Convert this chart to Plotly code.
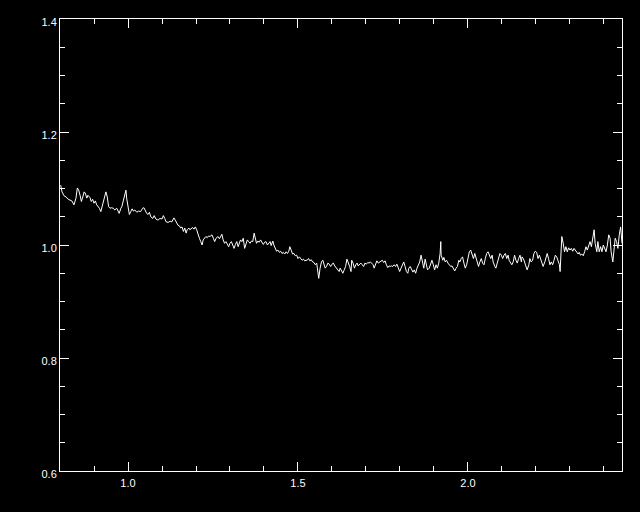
import plotly.graph_objects as go

# wavelength-like x values and normalized flux
x = [0.802, 0.806, 0.812, 0.818, 0.824, 0.829, 0.835, 0.841, 0.847, 0.851,
     0.855, 0.859, 0.863, 0.867, 0.871, 0.874, 0.879, 0.882, 0.888, 0.892,
     0.896, 0.900, 0.904, 0.908, 0.912, 0.916, 0.920, 0.924, 0.927, 0.931,
     0.935, 0.939, 0.943, 0.947, 0.951, 0.957, 0.961, 0.967, 0.971, 0.974,
     0.979, 0.982, 0.986, 0.990, 0.994, 0.996, 1.000, 1.004, 1.008, 1.012,
     1.016, 1.020, 1.026, 1.031, 1.037, 1.043, 1.047, 1.051, 1.055, 1.059,
     1.063, 1.067, 1.073, 1.077, 1.082, 1.088, 1.094, 1.100, 1.104, 1.108,
     1.112, 1.118, 1.124, 1.129, 1.135, 1.139, 1.143, 1.147, 1.151, 1.155,
     1.159, 1.163, 1.167, 1.171, 1.174, 1.179, 1.182, 1.186, 1.190, 1.194,
     1.198, 1.202, 1.206, 1.210, 1.214, 1.218, 1.221, 1.226, 1.229, 1.233,
     1.237, 1.241, 1.247, 1.251, 1.255, 1.259, 1.265, 1.269, 1.273, 1.276,
     1.280, 1.284, 1.288, 1.292, 1.296, 1.300, 1.304, 1.308, 1.312, 1.316,
     1.320, 1.324, 1.327, 1.331, 1.335, 1.339, 1.343, 1.347, 1.351, 1.355,
     1.359, 1.363, 1.367, 1.371, 1.374, 1.378, 1.382, 1.386, 1.390, 1.394,
     1.398, 1.402, 1.406, 1.410, 1.414, 1.418, 1.421, 1.426, 1.429, 1.433,
     1.437, 1.441, 1.445, 1.449, 1.453, 1.457, 1.461, 1.465, 1.469, 1.473,
     1.476, 1.480, 1.484, 1.488, 1.492, 1.496, 1.500, 1.504, 1.508, 1.512,
     1.516, 1.520, 1.524, 1.527, 1.531, 1.535, 1.539, 1.543, 1.547, 1.551,
     1.555, 1.559, 1.561, 1.565, 1.569, 1.573, 1.576, 1.580, 1.584, 1.588,
     1.592, 1.596, 1.600, 1.604, 1.608, 1.613, 1.617, 1.621, 1.624, 1.628,
     1.632, 1.636, 1.640, 1.644, 1.648, 1.652, 1.656, 1.658, 1.662, 1.666,
     1.670, 1.674, 1.677, 1.681, 1.685, 1.689, 1.693, 1.697, 1.701, 1.705,
     1.709, 1.713, 1.717, 1.721, 1.724, 1.729, 1.732, 1.736, 1.740, 1.744,
     1.748, 1.752, 1.756, 1.760, 1.764, 1.768, 1.771, 1.775, 1.779, 1.783,
     1.787, 1.791, 1.795, 1.799, 1.803, 1.807, 1.811, 1.815, 1.819, 1.823,
     1.826, 1.830, 1.834, 1.838, 1.842, 1.846, 1.850, 1.854, 1.858, 1.862,
     1.866, 1.870, 1.874, 1.877, 1.881, 1.886, 1.890, 1.894, 1.898, 1.902,
     1.906, 1.910, 1.914, 1.918, 1.920, 1.921, 1.926, 1.929, 1.933, 1.937,
     1.941, 1.945, 1.949, 1.953, 1.957, 1.961, 1.965, 1.969, 1.973, 1.976,
     1.980, 1.984, 1.988, 1.992, 1.996, 2.000, 2.004, 2.008, 2.012, 2.016,
     2.020, 2.024, 2.027, 2.031, 2.035, 2.039, 2.043, 2.047, 2.051, 2.055,
     2.059, 2.063, 2.067, 2.071, 2.074, 2.079, 2.082, 2.086, 2.090, 2.094,
     2.098, 2.102, 2.106, 2.110, 2.114, 2.118, 2.121, 2.126, 2.129, 2.133,
     2.137, 2.141, 2.145, 2.149, 2.153, 2.157, 2.159, 2.163, 2.167, 2.171,
     2.174, 2.179, 2.182, 2.186, 2.190, 2.194, 2.198, 2.202, 2.206, 2.210,
     2.214, 2.218, 2.221, 2.226, 2.229, 2.233, 2.237, 2.241, 2.245, 2.249,
     2.253, 2.257, 2.261, 2.265, 2.269, 2.271, 2.273, 2.276, 2.280, 2.284,
     2.288, 2.292, 2.296, 2.300, 2.304, 2.308, 2.312, 2.316, 2.320, 2.324,
     2.327, 2.331, 2.335, 2.339, 2.343, 2.347, 2.351, 2.355, 2.359, 2.363,
     2.367, 2.371, 2.374, 2.379, 2.382, 2.386, 2.390, 2.394, 2.398, 2.402,
     2.406, 2.410, 2.414, 2.418, 2.421, 2.426, 2.429, 2.433, 2.437, 2.441,
     2.445, 2.449, 2.453]

y = [1.106, 1.094, 1.087, 1.085, 1.081, 1.080, 1.078, 1.071, 1.083, 1.101,
     1.097, 1.088, 1.077, 1.085, 1.094, 1.092, 1.083, 1.088, 1.084, 1.077,
     1.081, 1.074, 1.078, 1.071, 1.068, 1.065, 1.059, 1.068, 1.077, 1.085,
     1.094, 1.085, 1.068, 1.065, 1.066, 1.065, 1.062, 1.065, 1.059, 1.056,
     1.065, 1.068, 1.078, 1.088, 1.097, 1.083, 1.065, 1.054, 1.059, 1.064,
     1.060, 1.062, 1.058, 1.060, 1.059, 1.065, 1.066, 1.059, 1.056, 1.054,
     1.058, 1.050, 1.047, 1.052, 1.046, 1.044, 1.047, 1.046, 1.052, 1.047,
     1.041, 1.040, 1.042, 1.041, 1.048, 1.044, 1.038, 1.035, 1.034, 1.030,
     1.032, 1.024, 1.030, 1.021, 1.027, 1.030, 1.027, 1.030, 1.031, 1.028,
     1.032, 1.027, 1.018, 1.012, 1.006, 1.000, 1.009, 1.013, 1.015, 1.013,
     1.016, 1.015, 1.018, 1.012, 1.006, 1.012, 1.015, 1.011, 1.016, 1.019,
     1.009, 1.003, 1.006, 1.000, 0.997, 1.003, 1.006, 1.000, 0.994, 1.001,
     1.006, 0.997, 1.003, 1.009, 1.006, 1.012, 0.994, 1.003, 1.009, 1.006,
     1.003, 1.007, 1.006, 1.021, 1.012, 1.003, 1.007, 1.005, 1.009, 1.006,
     1.001, 1.005, 1.006, 1.000, 1.003, 1.006, 0.999, 1.007, 1.000, 0.994,
     0.989, 0.991, 0.987, 0.989, 0.985, 0.987, 0.984, 0.988, 0.985, 0.989,
     0.997, 0.991, 0.984, 0.985, 0.981, 0.982, 0.976, 0.979, 0.976, 0.973,
     0.975, 0.972, 0.973, 0.973, 0.976, 0.972, 0.974, 0.970, 0.969, 0.965,
     0.968, 0.953, 0.941, 0.959, 0.970, 0.973, 0.966, 0.959, 0.962, 0.968,
     0.966, 0.962, 0.966, 0.968, 0.963, 0.959, 0.956, 0.953, 0.959, 0.953,
     0.950, 0.956, 0.962, 0.975, 0.970, 0.962, 0.953, 0.973, 0.968, 0.959,
     0.965, 0.968, 0.963, 0.966, 0.968, 0.965, 0.962, 0.968, 0.966, 0.969,
     0.968, 0.970, 0.968, 0.965, 0.959, 0.968, 0.972, 0.968, 0.970, 0.972,
     0.973, 0.969, 0.972, 0.965, 0.960, 0.963, 0.962, 0.963, 0.962, 0.965,
     0.962, 0.966, 0.960, 0.953, 0.959, 0.965, 0.970, 0.962, 0.953, 0.950,
     0.959, 0.962, 0.956, 0.952, 0.956, 0.950, 0.959, 0.965, 0.970, 0.982,
     0.968, 0.959, 0.975, 0.965, 0.956, 0.959, 0.968, 0.973, 0.965, 0.956,
     0.965, 0.959, 0.968, 0.985, 1.006, 0.982, 0.973, 0.978, 0.970, 0.973,
     0.968, 0.965, 0.962, 0.963, 0.959, 0.954, 0.959, 0.962, 0.973, 0.970,
     0.976, 0.979, 0.968, 0.959, 0.965, 0.979, 0.988, 0.991, 0.982, 0.976,
     0.985, 0.976, 0.968, 0.962, 0.970, 0.976, 0.968, 0.965, 0.976, 0.985,
     0.988, 0.982, 0.976, 0.982, 0.970, 0.962, 0.959, 0.968, 0.976, 0.985,
     0.982, 0.976, 0.982, 0.985, 0.976, 0.982, 0.973, 0.968, 0.965, 0.970,
     0.982, 0.973, 0.968, 0.976, 0.982, 0.970, 0.979, 0.976, 0.968, 0.962,
     0.956, 0.965, 0.976, 0.970, 0.973, 0.985, 0.989, 0.987, 0.976, 0.982,
     0.973, 0.965, 0.962, 0.970, 0.979, 0.985, 0.976, 0.965, 0.970, 0.965,
     0.973, 0.982, 0.979, 0.970, 0.965, 0.953, 0.976, 1.015, 1.003, 0.988,
     0.997, 0.988, 0.995, 0.991, 0.994, 0.989, 0.994, 0.991, 0.987, 0.984,
     0.987, 0.982, 0.984, 0.981, 0.988, 0.997, 0.991, 1.000, 1.006, 0.997,
     1.009, 1.027, 1.003, 0.988, 1.006, 0.988, 0.997, 0.988, 1.000, 0.994,
     0.988, 1.000, 1.018, 1.012, 0.988, 0.970, 0.988, 1.012, 1.006, 0.994,
     1.018, 1.032, 1.003]

x_range = [0.8, 2.453]
y_range = [0.6, 1.4]
x_ticks = [1.0, 1.5, 2.0]
y_ticks = [0.6, 0.8, 1.0, 1.2, 1.4]

fig = go.Figure()
fig.add_trace(go.Scatter(x=x, y=y, mode="lines",
                         line=dict(color="white", width=1),
                         hoverinfo="skip", showlegend=False))

axis_common = dict(
    showline=True, linecolor="white", linewidth=1, mirror="allticks",
    ticks="inside", ticklen=9, tickwidth=1, tickcolor="white",
    showgrid=False, zeroline=False, tickformat=".1f",
    tickfont=dict(family="Liberation Sans, Arial, sans-serif", size=11, color="white"),
)

fig.update_xaxes(range=x_range, tickvals=x_ticks, ticklabelstandoff=2,
                 minor=dict(dtick=0.1, tick0=0.8, ticks="inside", ticklen=5,
                            tickcolor="white", tickwidth=1, showgrid=False),
                 **axis_common)
fig.update_yaxes(range=y_range, tickvals=y_ticks, ticklabelshift=3,
                 minor=dict(dtick=0.05, tick0=0.6, ticks="inside", ticklen=5,
                            tickcolor="white", tickwidth=1, showgrid=False),
                 **axis_common)

fig.update_layout(
    width=640, height=512,
    paper_bgcolor="black", plot_bgcolor="black",
    margin=dict(l=60, r=18, t=19, b=41),
)

fig.write_html("out.html", config={"displayModeBar": False},
               post_script="document.body.style.margin='0';document.body.style.background='black';")
